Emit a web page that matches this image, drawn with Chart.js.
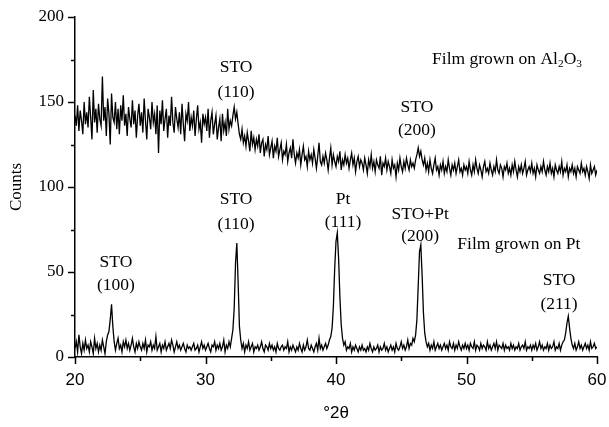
<!DOCTYPE html>
<html>
<head>
<meta charset="utf-8">
<script src="https://cdn.jsdelivr.net/npm/chart.js@4"></script>
<style>
  html, body { margin: 0; padding: 0; background: #fff; }
  canvas { display: block; }
</style>
</head>
<body>
<canvas id="xrdChart" width="609" height="427"></canvas>
<script>
// scan grid: 20.0 .. 60.0 degrees, 0.1 degree step
const scanStart = 20;
const scanStep = 0.1;

// film grown on Al2O3 (upper trace), counts
const countsAl2O3 = [
  142, 136, 148, 133, 145, 139, 131, 150, 137, 144,
  135, 153, 141, 128, 157, 138, 146, 132, 149, 140,
  136, 165, 139, 147, 130, 152, 143, 125, 155, 141,
  138, 150, 134, 146, 131, 148, 139, 154, 136, 143,
  130, 147, 140, 135, 151, 137, 145, 129, 142, 149,
  136, 144, 132, 152, 139, 128, 146, 141, 134, 150,
  138, 143, 131, 148, 120, 145, 137, 151, 133, 140,
  146, 129, 142, 136, 153, 138, 132, 147, 140, 135,
  144, 131, 149, 137, 127, 143, 139, 150, 133, 141,
  136, 145, 130, 140, 148, 134, 138, 126, 143, 137,
  141, 133, 146, 129, 139, 144, 131, 137, 142, 128,
  135, 140, 127, 143, 133, 138, 130, 146, 134, 139,
  136, 142, 147, 140, 144, 137, 131, 128, 134, 126,
  130, 124, 132, 127, 121, 133, 125, 129, 122, 128,
  124, 131, 120, 126, 128, 118, 125, 122, 130, 119,
  123, 127, 117, 124, 121, 129, 118, 122, 126, 116,
  121, 119, 125, 115, 120, 123, 117, 128, 119, 114,
  120, 117, 122, 113, 119, 124, 116, 118, 112, 121,
  116, 119, 114, 122, 117, 111, 118, 126, 115, 113,
  118, 114, 120, 116, 110, 117, 123, 113, 119, 115,
  112, 118, 115, 121, 110, 116, 113, 119, 114, 117,
  111, 116, 120, 113, 117, 109, 115, 118, 112, 116,
  114, 110, 117, 113, 108, 116, 112, 119, 111, 115,
  109, 116, 113, 111, 118, 107, 114, 112, 117, 110,
  115, 112, 108, 116, 111, 113, 106, 114, 110, 117,
  112, 109, 115, 111, 117, 113, 110, 116, 112, 114,
  111, 116, 119, 123, 118, 121, 116, 113, 117, 110,
  114, 109, 116, 111, 108, 113, 117, 110, 112, 107,
  113, 110, 115, 108, 112, 109, 116, 111, 107, 113,
  110, 114, 108, 112, 116, 109, 111, 107, 113, 110,
  112, 108, 115, 110, 107, 113, 109, 116, 111, 108,
  113, 110, 106, 112, 115, 109, 111, 108, 114, 110,
  107, 112, 109, 116, 110, 108, 113, 111, 106, 112,
  110, 114, 108, 111, 107, 113, 109, 115, 110, 106,
  112, 109, 113, 108, 111, 115, 107, 110, 112, 109,
  114, 108, 111, 106, 113, 110, 108, 112, 109, 115,
  110, 107, 112, 109, 114, 108, 111, 106, 113, 110,
  108, 112, 109, 115, 107, 111, 109, 113, 106, 111,
  109, 113, 108, 111, 106, 112, 110, 108, 114, 109,
  111, 107, 112, 109, 105, 113, 108, 110, 112, 107,
  110
];

// film grown on Pt (lower trace), counts
const countsPt = [
  5, 9, 3, 13, 6, 2, 8, 4, 10, 5,
  7, 3, 9, 6, 2, 11, 5, 8, 3, 7,
  4, 10, 6, 2, 9, 13, 15, 22, 31, 18,
  9, 4, 8, 11, 5, 7, 3, 9, 6, 10,
  5, 8, 4, 7, 11, 6, 3, 8, 5, 9,
  6, 4, 8, 5, 10, 3, 7, 6, 9, 4,
  7, 5, 12, 4, 6, 8, 3, 7, 5, 9,
  4, 6, 8, 5, 10, 7, 3, 6, 9, 5,
  7, 4, 6, 8, 5, 3, 7, 5, 6, 4,
  6, 8, 4, 5, 7, 3, 6, 9, 5, 7,
  4, 6, 8, 5, 3, 7, 6, 9, 4, 7,
  5, 8, 4, 6, 10, 3, 7, 5, 9, 6,
  11, 16, 29, 55, 67, 44, 18, 10, 5, 8,
  3, 7, 5, 9, 4, 6, 8, 3, 6, 5,
  7, 4, 6, 9, 5, 3, 7, 6, 4, 8,
  5, 7, 4, 6, 3, 8, 5, 4, 6, 7,
  4, 6, 5, 9, 3, 6, 4, 7, 5, 3,
  6, 4, 8, 5, 3, 7, 4, 6, 10, 5,
  4, 7, 5, 3, 6, 8, 4, 11, 5, 7,
  4, 6, 8, 5, 7, 10, 12, 17, 30, 52,
  68, 73, 58, 35, 19, 11, 7, 9, 4, 6,
  5, 8, 3, 6, 4, 7, 5, 3, 6, 4,
  7, 4, 5, 3, 6, 4, 8, 5, 3, 6,
  4, 5, 7, 3, 6, 4, 5, 8, 4, 6,
  3, 5, 7, 4, 6, 3, 8, 5, 4, 6,
  9, 5, 7, 4, 6, 10, 5, 8, 7, 11,
  9, 13, 22, 42, 62, 66, 48, 26, 14, 9,
  6, 8, 4, 7, 5, 9, 4, 6, 8, 5,
  7, 4, 6, 8, 5, 7, 4, 9, 6, 5,
  8, 4, 7, 5, 9, 6, 4, 7, 5, 8,
  5, 7, 4, 8, 6, 5, 9, 4, 7, 6,
  4, 8, 5, 7, 6, 4, 9, 5, 7, 4,
  6, 8, 5, 9, 4, 7, 6, 5, 8, 4,
  7, 5, 6, 4, 8, 5, 7, 4, 6, 5,
  8, 4, 6, 7, 5, 9, 4, 6, 5, 7,
  4, 7, 5, 8, 4, 6, 9, 5, 7, 4,
  6, 5, 8, 4, 7, 5, 6, 9, 4, 6,
  5, 8, 4, 7, 9, 10, 14, 20, 24, 17,
  11, 7, 5, 8, 4, 6, 9, 5, 7, 4,
  6, 8, 5, 7, 4, 9, 5, 6, 8, 5,
  6
];

// text annotations (placed in data units)
const noteTexts = ['STO', '(110)', 'STO', '(200)',
  'STO', '(100)', 'STO', '(110)', 'Pt', '(111)', 'STO+Pt', '(200)', 'STO', '(211)'];
const noteX = [32.34, 32.34, 46.2, 46.2,
  23.14, 23.14, 32.34, 32.34, 40.54, 40.54, 46.45, 46.45, 57.09, 57.09];
const noteY = [170.6, 155.9, 147, 133.5,
  55.9, 42.4, 92.9, 78.2, 92.9, 79.4, 84.1, 71.2, 45.3, 31.2];

const SERIF = '"Liberation Serif", "Times New Roman", serif';
const SANS = '"Liberation Sans", Arial, sans-serif';

function toPoints(values) {
  return values.map((v, i) => ({ x: scanStart + i * scanStep, y: v }));
}

// draw text with subscript parts
function drawRich(ctx, parts, x, y, size) {
  let cx = x;
  parts.forEach(([txt, sub]) => {
    ctx.font = (sub ? size * 0.65 : size) + 'px ' + SERIF;
    ctx.fillText(txt, cx, sub ? y + size * 0.28 : y);
    cx += ctx.measureText(txt).width;
  });
}

const tickMarks = {
  id: 'tickMarks',
  afterDraw(chart) {
    const { ctx, chartArea, scales } = chart;
    ctx.save();
    ctx.strokeStyle = '#000';
    ctx.lineWidth = 1.5;
    ctx.beginPath();
    scales.x.ticks.forEach((t) => {
      const px = Math.round(scales.x.getPixelForValue(t.value)) + 0.5;
      const len = t.value % 10 === 0 ? 7 : 4;
      ctx.moveTo(px, chartArea.bottom);
      ctx.lineTo(px, chartArea.bottom + len);
    });
    scales.y.ticks.forEach((t) => {
      const py = Math.round(scales.y.getPixelForValue(t.value)) + 0.5;
      const len = t.value % 50 === 0 ? 7 : 4;
      ctx.moveTo(chartArea.left, py);
      ctx.lineTo(chartArea.left - len, py);
    });
    ctx.stroke();
    ctx.restore();
  }
};

const notes = {
  id: 'notes',
  afterDraw(chart) {
    const { ctx, scales } = chart;
    ctx.save();
    ctx.fillStyle = '#000';
    ctx.font = '17.5px ' + SERIF;
    ctx.textAlign = 'center';
    ctx.textBaseline = 'middle';
    noteTexts.forEach((t, i) => {
      ctx.fillText(t, scales.x.getPixelForValue(noteX[i]), scales.y.getPixelForValue(noteY[i]));
    });
    ctx.textAlign = 'left';
    ctx.textBaseline = 'middle';
    drawRich(ctx, [['Film grown on Al', 0], ['2', 1], ['O', 0], ['3', 1]],
      scales.x.getPixelForValue(47.36), scales.y.getPixelForValue(175.3), 17.5);
    drawRich(ctx, [['Film grown on Pt', 0]],
      scales.x.getPixelForValue(49.3), scales.y.getPixelForValue(66.5), 17.5);
    ctx.restore();
  }
};

new Chart(document.getElementById('xrdChart'), {
  type: 'line',
  data: {
    datasets: [
      { label: 'Film grown on Al2O3', data: toPoints(countsAl2O3), borderColor: '#000', borderWidth: 1.3, pointRadius: 0, tension: 0 },
      { label: 'Film grown on Pt', data: toPoints(countsPt), borderColor: '#000', borderWidth: 1.3, pointRadius: 0, tension: 0 }
    ]
  },
  options: {
    responsive: false,
    animation: false,
    devicePixelRatio: 1,
    layout: { padding: { left: 0, right: 12, top: 17, bottom: 0 } },
    plugins: { legend: { display: false }, tooltip: { enabled: false } },
    scales: {
      x: {
        type: 'linear',
        min: 20,
        max: 60,
        afterFit: (s) => { s.height = 70; s.paddingLeft = 0; s.paddingRight = 0; },
        grid: { display: false, drawTicks: true, tickLength: 7 },
        border: { display: true, color: '#000', width: 1.5 },
        ticks: {
          stepSize: 5,
          padding: 6,
          maxRotation: 0,
          color: '#000',
          font: { family: SANS, size: 17 },
          callback: (v) => (v % 10 === 0 ? v : '')
        },
        title: { display: true, text: '°2θ', color: '#000', font: { family: SANS, size: 17 }, padding: { top: 0, bottom: 3 } }
      },
      y: {
        min: 0,
        max: 200,
        afterFit: (s) => { s.width = 75; s.paddingTop = 0; s.paddingBottom = 0; },
        grid: { display: false, drawTicks: true, tickLength: 7 },
        border: { display: true, color: '#000', width: 1.5 },
        ticks: {
          stepSize: 25,
          padding: 4,
          color: '#000',
          font: { family: SERIF, size: 17 },
          callback: (v) => (v % 50 === 0 ? v : '')
        },
        title: { display: true, text: 'Counts', color: '#000', font: { family: SERIF, size: 17 }, padding: { top: 6, bottom: 0 } }
      }
    }
  },
  plugins: [tickMarks, notes]
});
</script>
</body>
</html>
